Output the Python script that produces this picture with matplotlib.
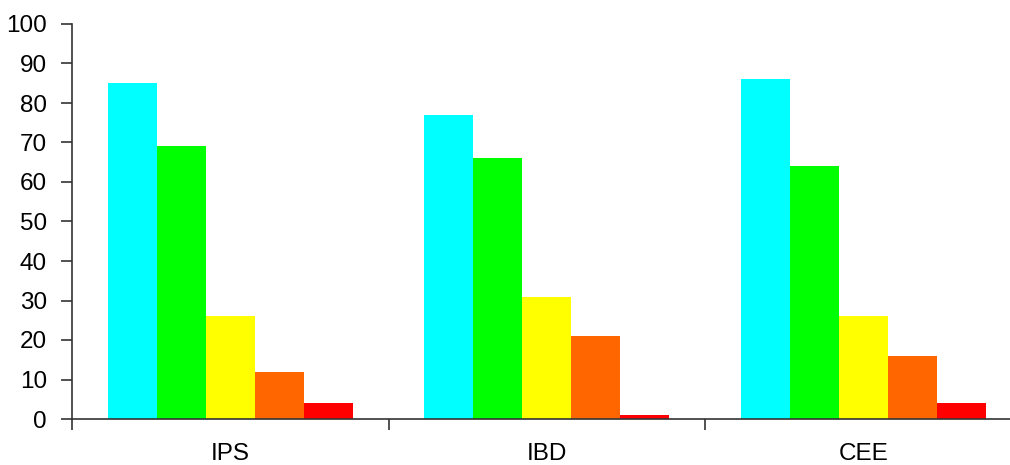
import matplotlib.pyplot as plt
import numpy as np

# groups along the x axis and the five series drawn in each group
categories = ["IPS", "IBD", "CEE"]
cyan_vals = [85, 77, 86]
green_vals = [69, 66, 64]
yellow_vals = [26, 31, 26]
orange_vals = [12, 21, 16]
red_vals = [4, 1, 4]

series = [cyan_vals, green_vals, yellow_vals, orange_vals, red_vals]
colors = ["#00FFFF", "#00FF00", "#FFFF00", "#FF6600", "#FF0000"]

plt.rcParams['font.family'] = ['Liberation Sans', 'DejaVu Sans']

fig = plt.figure(figsize=(10.1, 4.65), dpi=100)
# the plot area runs a little past the right edge of the figure
ax = fig.add_axes([72 / 1010, 46 / 465, 949.5 / 1010, 395 / 465])

bar_w = 0.155
centers = np.arange(len(categories)) + 0.5
for k, (vals, col) in enumerate(zip(series, colors)):
    ax.bar(centers + (k - 2) * bar_w, vals, width=bar_w, color=col, linewidth=0)

ax.set_xlim(0, len(categories))
ax.set_ylim(0, 100)
ax.set_yticks(range(0, 101, 10))

# category boundaries get the tick marks, the names sit in between
ax.set_xticks(np.arange(len(categories) + 1))
ax.set_xticklabels([])
ax.set_xticks(centers, minor=True)
ax.set_xticklabels(categories, minor=True)

for side in ["top", "right"]:
    ax.spines[side].set_visible(False)
for side in ["left", "bottom"]:
    ax.spines[side].set_color("#333333")
    ax.spines[side].set_linewidth(1.2)

ax.tick_params(axis="y", direction="out", length=8, width=1.2, color="#333333",
               labelsize=17.5, pad=10)
ax.tick_params(axis="x", which="major", direction="out", length=8, width=1.2,
               color="#333333")
ax.tick_params(axis="x", which="minor", length=0, labelsize=17.5, pad=17)

fig.savefig("out.png", dpi=100)
